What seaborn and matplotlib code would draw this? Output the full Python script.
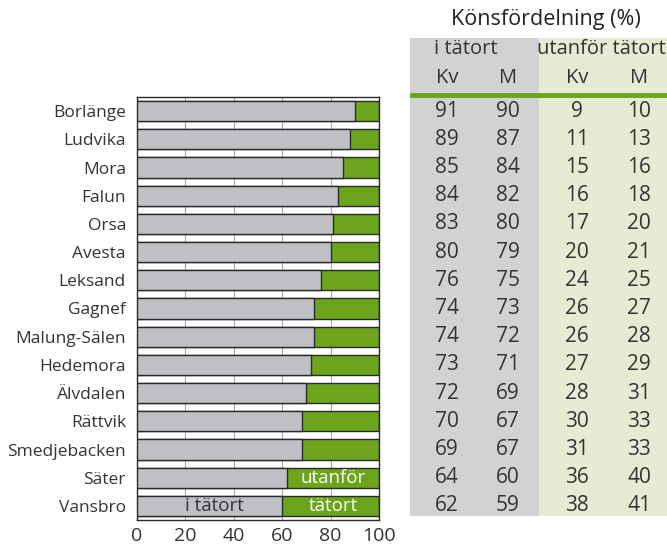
import matplotlib
matplotlib.use("Agg")
import matplotlib.pyplot as plt
import matplotlib.transforms as mtransforms
import pandas as pd
import seaborn as sns

# Data
kommuner = ["Borlänge", "Ludvika", "Mora", "Falun", "Orsa", "Avesta", "Leksand",
            "Gagnef", "Malung-Sälen", "Hedemora", "Älvdalen", "Rättvik",
            "Smedjebacken", "Säter", "Vansbro"]
andel_tatort = [90, 88, 85, 83, 81, 80, 76, 73, 73, 72, 70, 68, 68, 62, 60]
kv_tatort = [91, 89, 85, 84, 83, 80, 76, 74, 74, 73, 72, 70, 69, 64, 62]
m_tatort = [90, 87, 84, 82, 80, 79, 75, 73, 72, 71, 69, 67, 67, 60, 59]
kv_utanfor = [9, 11, 15, 16, 17, 20, 24, 26, 26, 27, 28, 30, 31, 36, 38]
m_utanfor = [10, 13, 16, 18, 20, 21, 25, 27, 28, 29, 31, 33, 33, 40, 41]
x_ticks = [0, 20, 40, 60, 80, 100]

df = pd.DataFrame({"kommun": kommuner, "tatort": andel_tatort})
df["total"] = 100

GRAY = "#bfc0c4"
GREEN = "#6ca41c"
TXT = "#333333"
W, H = 667, 545

sns.set_style("white")
plt.rcParams["font.family"] = ["Open Sans", "DejaVu Sans"]

fig = plt.figure(figsize=(W / 100, H / 100), dpi=100)
ax = fig.add_axes([137 / W, (H - 520) / H, 242 / W, 423 / H])

# green = whole bar (100 %), gray on top = share in tätort
sns.barplot(data=df, x="total", y="kommun", color=GREEN, saturation=1, width=0.71,
            edgecolor="#2a2a2a", linewidth=1, ax=ax, zorder=2)
sns.barplot(data=df, x="tatort", y="kommun", color=GRAY, saturation=1, width=0.71,
            edgecolor="#2a2a2a", linewidth=1, ax=ax, zorder=3)

ax.set_xlim(0, 100)
ax.set_ylim(len(kommuner) - 0.5, -0.5)
ax.set_xticks(x_ticks)
ax.set_xticklabels([str(t) for t in x_ticks], fontsize=14, color=TXT)
ax.tick_params(axis="y", labelsize=12.5, labelcolor=TXT, length=0, pad=8)
ax.tick_params(axis="x", length=0, pad=5)
ax.set_xlabel("")
ax.set_ylabel("")
ax.xaxis.grid(True, color="#a8a8a8", linewidth=0.8, zorder=0)
ax.set_axisbelow(True)
for s in ax.spines.values():
    s.set_color("#2a2a2a")
    s.set_linewidth(1)

# labels inside bars
n = len(kommuner)
ax.text(32, n - 1, "i tätort", ha="center", va="center", fontsize=13.5, color=TXT, zorder=5)
ax.text(81, n - 2, "utanför", ha="center", va="center", fontsize=13.5, color="white", zorder=5)
ax.text(81, n - 1, "tätort", ha="center", va="center", fontsize=13.5, color="white", zorder=5)

# table on the right
tab = fig.add_axes([410 / W, (H - 516) / H, 257 / W, (516 - 38) / H])
tab.set_xlim(0, 1)
tab.set_ylim(0, 1)
tab.axis("off")
tab.axvspan(0, 0.5, color="#d1d2d4", zorder=0)
tab.axvspan(0.5, 1, color="#e6ebd4", zorder=0)
tab.axhline((516 - 95) / (516 - 38), color=GREEN, linewidth=3.5, zorder=2)

fig.text(546 / W, 1 - 19 / H, "Könsfördelning (%)", ha="center", va="center",
         fontsize=15.5, color="#222222")

col_x = [(447 - 410) / 257, (508 - 410) / 257, (577 - 410) / 257, (639 - 410) / 257]
for xc, grp in [((466 - 410) / 257, "i tätort"), ((601 - 410) / 257, "utanför tätort")]:
    tab.text(xc, (516 - 49) / (516 - 38), grp, ha="center", va="center",
             fontsize=14.5, color=TXT)
for xc, lab in zip(col_x, ["Kv", "M", "Kv", "M"]):
    tab.text(xc, (516 - 78) / (516 - 38), lab, ha="center", va="center",
             fontsize=14.5, color=TXT)

trans = mtransforms.blended_transform_factory(tab.transAxes, ax.transData)
for i in range(n):
    for xc, col in zip(col_x, [kv_tatort, m_tatort, kv_utanfor, m_utanfor]):
        tab.text(xc, i, str(col[i]), transform=trans, ha="center", va="center",
                 fontsize=15, color=TXT)

fig.savefig("out.png", dpi=100)
